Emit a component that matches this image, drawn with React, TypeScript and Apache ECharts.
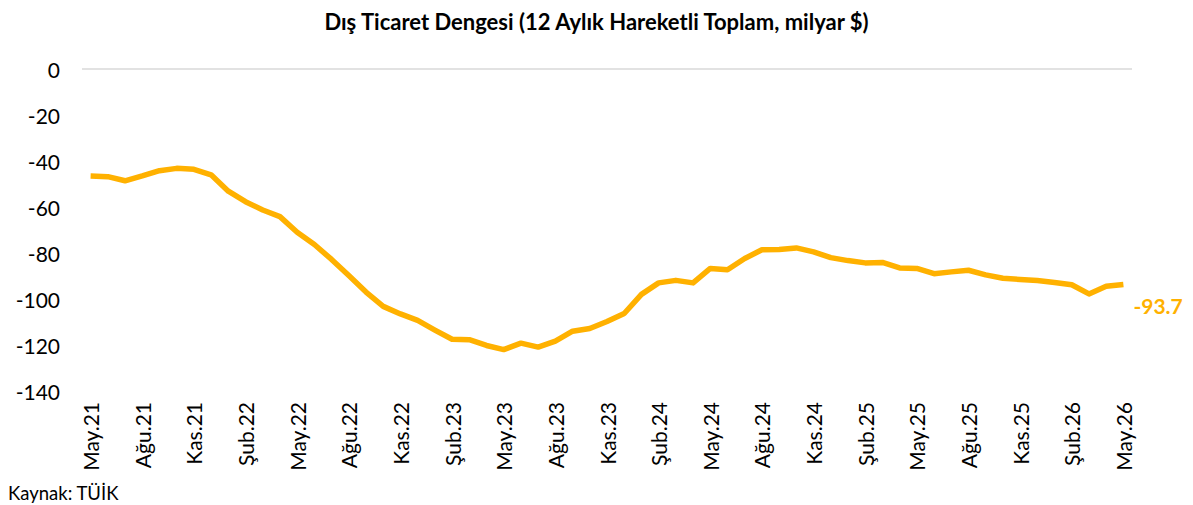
import React, { useEffect, useRef } from "react";
import * as echarts from "echarts";

const monthNames = ["Oca", "Şub", "Mar", "Nis", "May", "Haz", "Tem", "Ağu", "Eyl", "Eki", "Kas", "Ara"];

// May.21 .. May.26 (61 months)
const categories: string[] = [];
for (let k = 0; k < 61; k++) {
  const m = (4 + k) % 12;
  const y = 21 + Math.floor((4 + k) / 12);
  categories.push(`${monthNames[m]}.${y}`);
}

const balance = [
  -46.5, -46.8, -48.6, -46.5, -44.2, -43.2, -43.6, -46.0, -53.1, -57.7,
  -61.3, -64.2, -71.0, -76.3, -82.8, -89.8, -97.0, -103.2, -106.5, -109.3,
  -113.5, -117.5, -117.7, -120.2, -122.0, -119.2, -120.9, -118.3, -114.0, -112.8,
  -109.8, -106.3, -98.0, -93.0, -91.9, -93.0, -86.7, -87.3, -82.4, -78.6,
  -78.5, -77.8, -79.5, -82.0, -83.3, -84.3, -84.1, -86.5, -86.7, -89.0,
  -88.2, -87.5, -89.5, -91.0, -91.5, -92.0, -92.8, -93.8, -97.8, -94.5,
  -93.7,
];

const yTicks = { min: -140, max: 0, interval: 20 };

const titleText = "Dış Ticaret Dengesi (12 Aylık Hareketli Toplam, milyar $)";
const sourceText = "Kaynak: TÜİK";

const FONT = "Lato, 'Open Sans', sans-serif";
const LINE_COLOR = "#FFB100";

export default function App() {
  const ref = useRef<HTMLDivElement>(null);
  useEffect(() => {
    if (!ref.current) return;
    const chart = echarts.init(ref.current, undefined, { renderer: "svg" });
    chart.setOption({
      animation: false,
      backgroundColor: "#ffffff",
      title: {
        text: titleText,
        left: "center",
        top: 5,
        textStyle: { fontFamily: FONT, fontWeight: "bold", fontSize: 22, color: "#000" },
      },
      graphic: [
        {
          type: "text",
          left: 8,
          top: 483,
          style: { text: sourceText, fontFamily: FONT, fontSize: 18.5, fill: "#000" },
        },
      ],
      grid: { left: 82, right: 61, top: 69, bottom: 114, containLabel: false },
      xAxis: {
        type: "category",
        data: categories,
        boundaryGap: true,
        axisLine: { show: false },
        axisTick: { show: false },
        axisLabel: {
          interval: 2,
          rotate: 90,
          margin: 11,
          fontFamily: FONT,
          fontSize: 21,
          color: "#000",
        },
        splitLine: { show: false },
      },
      yAxis: {
        type: "value",
        min: yTicks.min,
        max: yTicks.max,
        interval: yTicks.interval,
        axisLine: { show: false },
        axisTick: { show: false },
        splitLine: { show: false },
        axisLabel: { margin: 22, fontFamily: FONT, fontSize: 21, color: "#000" },
      },
      series: [
        {
          type: "line",
          data: balance,
          showSymbol: false,
          symbol: "none",
          lineStyle: { color: LINE_COLOR, width: 5.5, join: "round" },
          itemStyle: { color: LINE_COLOR },
          endLabel: {
            show: true,
            offset: [2, 21],
            formatter: (p: any) => Number(p.value).toFixed(1),
            color: LINE_COLOR,
            fontFamily: FONT,
            fontWeight: "bold",
            fontSize: 21,
          },
          markLine: {
            silent: true,
            symbol: "none",
            label: { show: false },
            lineStyle: { color: "#d9d9d9", width: 1.5, type: "solid" },
            data: [{ yAxis: 0 }],
          },
          z: 3,
        },
      ],
    });
    return () => chart.dispose();
  }, []);
  return (
    <div
      ref={ref}
      style={{ position: "absolute", left: 0, top: 0, width: 1193, height: 505 }}
    />
  );
}
